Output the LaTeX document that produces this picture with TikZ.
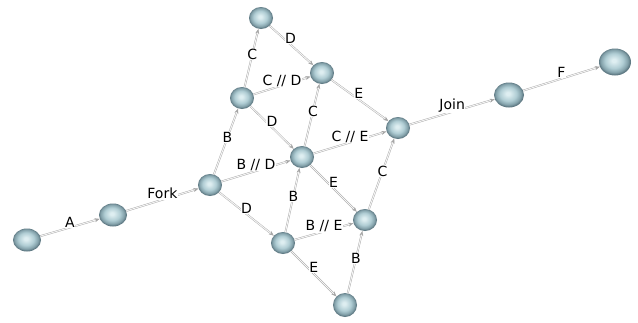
\documentclass[tikz,border=0pt]{standalone}
\RequirePackage{fontspec}
\RequirePackage{tikz}
\usetikzlibrary{arrows.meta}
\usetikzlibrary{shapes.geometric}
\setsansfont{DejaVu Sans}
\definecolor{sphlight}{RGB}{222,238,241}
\definecolor{sphmid}{RGB}{176,205,212}
\definecolor{sphedge}{RGB}{132,162,171}
\definecolor{sphdark}{RGB}{90,116,126}
\pgfdeclareradialshading{sphere}{\pgfpoint{-2bp}{3bp}}{color(0bp)=(sphlight); color(3bp)=(sphlight); color(14bp)=(sphmid); color(21bp)=(sphedge); color(25bp)=(sphdark); color(50bp)=(sphdark)}
\tikzset{
    state/.style={ellipse,minimum width=24pt,minimum height=22pt,inner sep=0pt,shading=sphere},
    flow/.style={draw=gray!70,double=gray!8,double distance=1pt,-{Stealth[length=5pt,width=4pt]}},
    lbl/.style={fill=white,inner sep=0.5pt,midway,font=\sffamily\fontsize{14}{14}\selectfont},
    lblup/.style={lbl,yshift=6pt}
}
\begin{document}
\begin{tikzpicture}[x=1pt,y=-1pt]
                        \useasboundingbox (0,0) rectangle (638,322);
                        % states
                        \node[state,minimum width=28pt,minimum height=23pt] (start) at (27,240) {};
                        \node[state,minimum width=28pt,minimum height=23pt] (ready) at (113,215) {};
                        \node[state] (fork) at (210,185) {};
                        \node[state] (b) at (242,98) {};
                        \node[state] (bc) at (261,18) {};
                        \node[state] (bcd) at (322,73) {};
                        \node[state] (bd) at (302,157) {};
                        \node[state] (join) at (398,128) {};
                        \node[state] (d) at (283,243) {};
                        \node[state] (be) at (365,220) {};
                        \node[state,minimum height=24pt] (de) at (345,305) {};
                        \node[state,minimum width=30pt,minimum height=25pt] (joined) at (509,95) {};
                        \node[state,minimum width=32pt,minimum height=27pt] (done) at (615,62) {};
                        % transitions
                        \draw[flow] (start) -- node[lblup,yshift=-1pt] {A} (ready);
                        \draw[flow] (ready) -- node[lblup] {Fork} (fork);
                        \draw[flow] (fork) -- node[lbl,pos=0.56] {B} (b);
                        \draw[flow] (b) -- node[lbl,pos=0.56] {C} (bc);
                        \draw[flow] (bc) -- node[lblup,pos=0.48] {D} (bcd);
                        \draw[flow] (b) -- node[lblup,yshift=-1pt] {C // D} (bcd);
                        \draw[flow] (b) -- node[lblup] {D} (bd);
                        \draw[flow] (bd) -- node[lbl,pos=0.56] {C} (bcd);
                        \draw[flow] (bcd) -- node[lblup,pos=0.48] {E} (join);
                        \draw[flow] (bd) -- node[lblup] {C // E} (join);
                        \draw[flow] (fork) -- node[lblup] {B // D} (bd);
                        \draw[flow] (bd) -- node[lblup] {E} (be);
                        \draw[flow] (fork) -- node[lblup] {D} (d);
                        \draw[flow] (d) -- node[lbl,pos=0.56] {B} (bd);
                        \draw[flow] (d) -- node[lblup,yshift=-1pt] {B // E} (be);
                        \draw[flow] (be) -- node[lbl,pos=0.54] {C} (join);
                        \draw[flow] (d) -- node[lblup] {E} (de);
                        \draw[flow] (de) -- node[lbl,pos=0.56] {B} (be);
                        \draw[flow] (join) -- node[lblup] {Join} (joined);
                        \draw[flow] (joined) -- node[lblup] {F} (done);
                    \end{tikzpicture}
\end{document}
